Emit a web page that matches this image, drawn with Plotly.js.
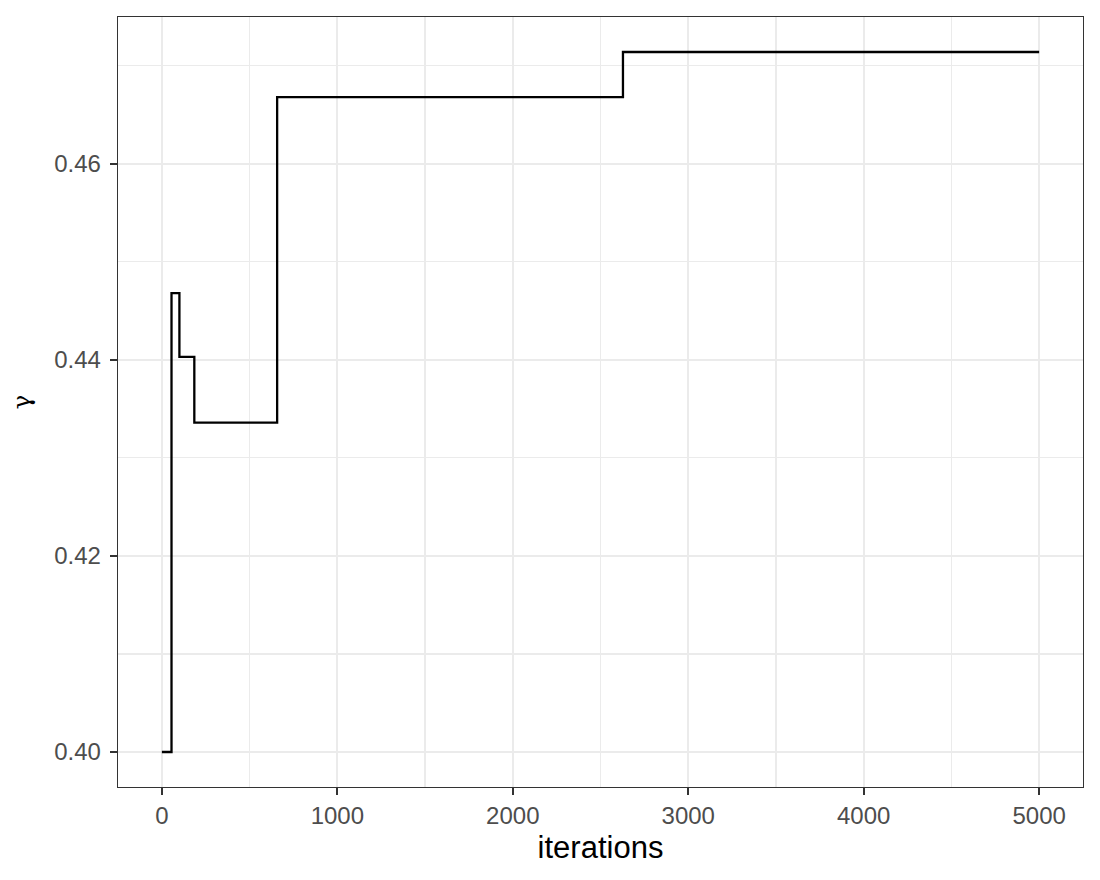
<!DOCTYPE html>
<html>
<head>
<meta charset="utf-8">
<script src="https://cdn.plot.ly/plotly-3.0.1.min.js"></script>
<style>
  body { margin: 0; background: #fff; }
  #plot { width: 1100px; height: 880px; }
</style>
</head>
<body>
<div id="plot"></div>
<script>
  // step points of the gamma trace (iteration where a new value starts)
  const iterations = [0, 55, 100, 185, 657, 2628, 5000];
  const gamma = [0.400, 0.4468, 0.4403, 0.4336, 0.4668, 0.4714, 0.4714];

  const xTicks = [0, 1000, 2000, 3000, 4000, 5000];
  const yTicks = [0.40, 0.42, 0.44, 0.46];

  const trace = {
    x: iterations,
    y: gamma,
    mode: "lines",
    line: { shape: "hv", color: "#000000", width: 2.3 },
    hoverinfo: "skip"
  };

  const axisCommon = {
    ticks: "outside",
    ticklen: 7,
    tickwidth: 2,
    tickcolor: "#333333",
    showline: true,
    mirror: true,
    linecolor: "#333333",
    linewidth: 1.3,
    showgrid: true,
    gridcolor: "#EBEBEB",
    gridwidth: 2.2,
    zeroline: false,
    tickfont: { family: "Liberation Sans, Arial, sans-serif", size: 24, color: "#4D4D4D" }
  };

  const layout = {
    width: 1100,
    height: 880,
    paper_bgcolor: "#ffffff",
    plot_bgcolor: "#ffffff",
    margin: { l: 118, r: 17, t: 17, b: 93 },
    showlegend: false,
    xaxis: Object.assign({}, axisCommon, {
      range: [-250, 5250],
      tickmode: "array",
      tickvals: xTicks,
      ticktext: xTicks.map(String),
      minor: { dtick: 500, tick0: 0, showgrid: true, gridcolor: "#EBEBEB", gridwidth: 1.1, ticks: "" },
      title: { text: "iterations", standoff: 8, font: { family: "Liberation Sans, Arial, sans-serif", size: 31, color: "#000000" } }
    }),
    yaxis: Object.assign({}, axisCommon, {
      range: [0.39643, 0.47497],
      tickmode: "array",
      tickvals: yTicks,
      ticktext: yTicks.map(v => v.toFixed(2)),
      ticklabelstandoff: 4,
      minor: { dtick: 0.01, tick0: 0.40, showgrid: true, gridcolor: "#EBEBEB", gridwidth: 1.1, ticks: "" },
      title: { text: "γ", standoff: 16, font: { family: "DejaVu Serif, serif", size: 24, color: "#000000" } }
    })
  };

  Plotly.newPlot("plot", [trace], layout, { staticPlot: true, displayModeBar: false });
</script>
</body>
</html>
